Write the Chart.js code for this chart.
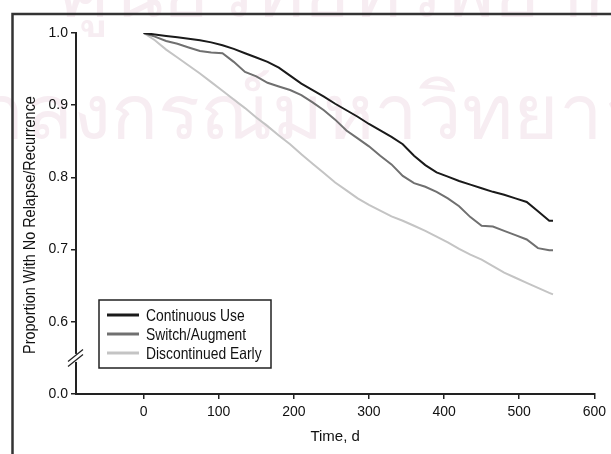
<!DOCTYPE html>
<html>
<head>
<meta charset="utf-8">
<script src="https://cdn.jsdelivr.net/npm/chart.js@4/dist/chart.umd.min.js"></script>
<style>
  html, body { margin: 0; padding: 0; background: #fff; }
  #wrap { position: relative; width: 611px; height: 454px; overflow: hidden; }
  .wm { position: absolute; white-space: nowrap; color: #f7edf2; font-family: "Noto Sans", sans-serif; font-size: 78px; line-height: 1; }
  canvas { position: absolute; left: 0; top: 0; }
</style>
</head>
<body>
<div id="wrap">
  <div class="wm" style="left:60px; top:-52px;">ศูนย์วิทยทรัพยากร</div>
  <div class="wm" style="left:-118px; top:70px;">จุฬาลงกรณ์มหาวิทยาลัย</div>
  <canvas id="km" width="611" height="454"></canvas>
</div>
<script>
// time points (days)
const days = [0, 15, 30, 45, 60, 75, 90, 105, 120, 135, 150, 165, 180, 195, 210, 225, 240, 255, 270,
  285, 300, 315, 330, 345, 360, 375, 390, 405, 420, 435, 450, 465, 480, 495, 510, 525, 540, 545];

const continuousUse = [1.000, 0.998, 0.996, 0.994, 0.992, 0.990, 0.987, 0.983, 0.978, 0.972, 0.966, 0.960,
  0.952, 0.941, 0.930, 0.921, 0.912, 0.902, 0.893, 0.884, 0.874, 0.865, 0.856, 0.846, 0.830, 0.817,
  0.807, 0.801, 0.795, 0.790, 0.785, 0.780, 0.776, 0.771, 0.766, 0.753, 0.740, 0.740];

const switchAugment = [1.000, 0.995, 0.989, 0.985, 0.980, 0.975, 0.973, 0.972, 0.960, 0.946, 0.940, 0.931,
  0.926, 0.921, 0.914, 0.904, 0.893, 0.880, 0.865, 0.854, 0.843, 0.830, 0.818, 0.802, 0.792, 0.787,
  0.780, 0.771, 0.760, 0.745, 0.733, 0.732, 0.726, 0.720, 0.714, 0.702, 0.699, 0.699];

const discontinuedEarly = [1.000, 0.990, 0.977, 0.966, 0.955, 0.944, 0.932, 0.920, 0.908, 0.896, 0.883, 0.871,
  0.858, 0.846, 0.832, 0.819, 0.806, 0.793, 0.782, 0.771, 0.762, 0.754, 0.746, 0.740, 0.733, 0.726,
  0.718, 0.710, 0.701, 0.693, 0.686, 0.677, 0.668, 0.661, 0.654, 0.647, 0.640, 0.638];

const seriesNames = ['Continuous Use', 'Switch/Augment', 'Discontinued Early'];
const xTicks = [0, 100, 200, 300, 400, 500, 600];
// 0.5 sits below the axis break and is labelled as 0.0
const yTicks = [0.5, 0.6, 0.7, 0.8, 0.9, 1.0];
const yTickLabels = ['0.0', '0.6', '0.7', '0.8', '0.9', '1.0'];

const FONT = '"Liberation Sans", Arial, sans-serif';
const colors = ['#1a1a1a', '#707070', '#c4c4c4'];

function pts(vals) {
  return days.map((d, i) => ({ x: d, y: vals[i] }));
}

// squeezed text, closer to a narrow face
function narrowText(c, text, x, y, size, squeeze) {
  c.save();
  c.font = size + 'px ' + FONT;
  c.translate(x, y);
  c.scale(squeeze, 1);
  c.fillText(text, 0, 0);
  c.restore();
}

// frame, axis break, y title and legend box
const extras = {
  id: 'extras',
  beforeDraw(chart) {
    const c = chart.ctx;
    c.save();
    c.strokeStyle = '#333';
    c.lineWidth = 2.5;
    c.beginPath();
    c.moveTo(12.5, 454);
    c.lineTo(12.5, 14);
    c.lineTo(611, 14);
    c.stroke();
    c.restore();
  },
  afterDraw(chart) {
    const c = chart.ctx;
    const y = chart.scales.y;
    const ax = chart.chartArea.left;
    const yb = y.getPixelForValue(0.55);
    c.save();
    // break in the y axis
    c.fillStyle = '#fff';
    c.fillRect(ax - 3, yb - 4, 6, 8);
    c.strokeStyle = '#222';
    c.lineWidth = 1.3;
    [-2.5, 2.5].forEach(off => {
      c.beginPath();
      c.moveTo(ax - 8, yb + off + 6);
      c.lineTo(ax + 7, yb + off - 6);
      c.stroke();
    });

    // y axis title
    c.fillStyle = '#111';
    c.textAlign = 'center';
    c.textBaseline = 'middle';
    c.save();
    c.translate(30, 225);
    c.rotate(-Math.PI / 2);
    narrowText(c, 'Proportion With No Relapse/Recurrence', 0, 0, 17, 0.85);
    c.restore();

    // legend
    const bx = 99, by = 300, bw = 172, bh = 68;
    c.fillStyle = '#fff';
    c.fillRect(bx, by, bw, bh);
    c.strokeStyle = '#222';
    c.lineWidth = 1.5;
    c.strokeRect(bx, by, bw, bh);
    c.textAlign = 'left';
    chart.data.datasets.forEach((ds, i) => {
      const ly = 315 + i * 19;
      c.strokeStyle = ds.borderColor;
      c.lineWidth = 3;
      c.beginPath();
      c.moveTo(107, ly);
      c.lineTo(139, ly);
      c.stroke();
      c.fillStyle = '#111';
      narrowText(c, ds.label, 146, ly + 1, 16.5, 0.84);
    });
    c.restore();
  }
};

new Chart(document.getElementById('km'), {
  type: 'line',
  data: {
    datasets: [
      { label: seriesNames[0], data: pts(continuousUse), borderColor: colors[0], borderWidth: 2 },
      { label: seriesNames[1], data: pts(switchAugment), borderColor: colors[1], borderWidth: 2 },
      { label: seriesNames[2], data: pts(discontinuedEarly), borderColor: colors[2], borderWidth: 2 }
    ]
  },
  options: {
    responsive: false,
    animation: false,
    layout: { padding: { left: 0, top: 33, right: 15, bottom: 0 } },
    elements: { point: { radius: 0 }, line: { tension: 0 } },
    plugins: { legend: { display: false }, tooltip: { enabled: false } },
    scales: {
      x: {
        type: 'linear',
        min: -90,
        max: 600,
        afterBuildTicks: s => { s.ticks = xTicks.map(v => ({ value: v })); },
        afterFit: s => { s.height = 60; },
        grid: { drawOnChartArea: false, color: '#222', lineWidth: 1.5, tickLength: 5 },
        border: { color: '#222', width: 2 },
        ticks: { color: '#111', font: { family: FONT, size: 14 }, padding: 5, maxRotation: 0 },
        title: { display: true, text: 'Time, d', color: '#111', font: { family: FONT, size: 15 }, padding: { top: 0, bottom: 8 } }
      },
      y: {
        min: 0.5,
        max: 1.0,
        afterBuildTicks: s => { s.ticks = yTicks.map(v => ({ value: v })); },
        afterFit: s => { s.width = 76; },
        grid: { drawOnChartArea: false, color: '#222', lineWidth: 1.5, tickLength: 5 },
        border: { color: '#222', width: 2 },
        ticks: {
          color: '#111',
          font: { family: FONT, size: 14 },
          padding: 3,
          callback: (v, i) => yTickLabels[i]
        }
      }
    }
  },
  plugins: [extras]
});
</script>
</body>
</html>
